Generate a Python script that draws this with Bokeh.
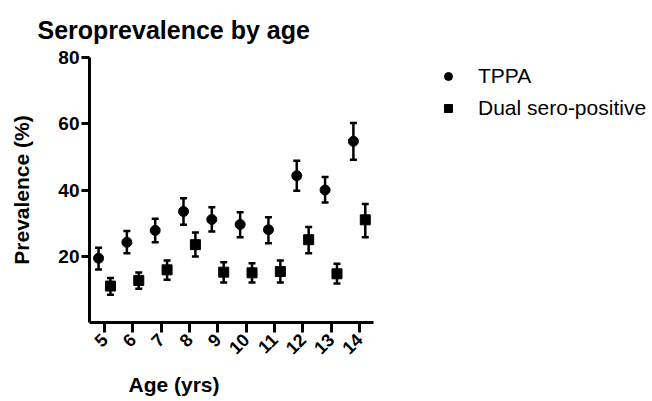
from math import pi
from bokeh.plotting import figure
from bokeh.models import (ColumnDataSource, Whisker, TeeHead, FixedTicker, Title,
                          Legend, LegendItem, Range1d)
from bokeh.transform import dodge
from bokeh.embed import file_html
from bokeh.resources import INLINE

ages = [5, 6, 7, 8, 9, 10, 11, 12, 13, 14]
tick_labels = ["5", "6", "7", "8", "9", "10", "11", "12", "13", "14"]
tppa = [19.4, 24.2, 27.8, 33.5, 31.1, 29.6, 28.0, 44.3, 40.0, 54.7]
tppa_upper = [22.6, 27.6, 31.3, 37.5, 34.8, 33.3, 31.8, 48.8, 43.9, 60.2]
tppa_lower = [16.0, 20.9, 24.2, 29.5, 27.5, 25.7, 23.9, 39.8, 36.2, 49.1]
dual = [11.0, 12.7, 15.9, 23.5, 15.2, 15.0, 15.4, 25.0, 14.7, 31.0]
dual_upper = [13.4, 15.1, 18.7, 27.2, 18.2, 17.9, 18.7, 28.8, 17.7, 35.8]
dual_lower = [8.4, 10.2, 12.9, 19.9, 12.1, 12.1, 12.1, 20.9, 11.8, 25.7]

FONT = "Liberation Sans"

src = ColumnDataSource(dict(age=ages, tppa=tppa, tu=tppa_upper, tl=tppa_lower,
                            dual=dual, du=dual_upper, dl=dual_lower))

p = figure(frame_width=284, frame_height=265, x_range=Range1d(4.47, 14.5), y_range=Range1d(0, 80),
           output_backend="svg", toolbar_location=None,
           min_border_left=89, min_border_right=279, min_border_top=57, min_border_bottom=79)
p.outline_line_color = None
p.grid.visible = False

p.title.text = "Seroprevalence by age"
p.title.text_font = FONT
p.title.text_font_size = "25px"
p.title.text_font_style = "bold"
p.title.text_color = "black"
p.title.align = "left"
p.title.offset = -52
p.title.standoff = 27
p.title.vertical_align = "bottom"

xa = p.xaxis[0]
xa.ticker = FixedTicker(ticks=ages)
xa.major_label_overrides = {a: t for a, t in zip(ages, tick_labels)}
xa.major_label_orientation = pi / 4
xa.major_tick_out = 10
xa.major_label_standoff = 4

ya = p.yaxis[0]
ya.ticker = FixedTicker(ticks=[20, 40, 60, 80])
ya.major_tick_out = 8
ya.major_label_standoff = 2
ya.axis_label = "Prevalence (%)"
ya.axis_label_standoff = 22

for ax in (xa, ya):
    ax.axis_line_width = 3
    ax.axis_line_color = "black"
    ax.major_tick_line_width = 3
    ax.major_tick_line_color = "black"
    ax.major_tick_in = 0
    ax.minor_tick_line_color = None
    ax.major_label_text_font = FONT
    ax.major_label_text_font_style = "bold"
    ax.major_label_text_color = "black"
    ax.axis_label_text_font = FONT
    ax.axis_label_text_font_style = "bold"
    ax.axis_label_text_color = "black"
xa.major_label_text_font_size = "18px"
ya.major_label_text_font_size = "19px"
ya.axis_label_text_font_size = "21px"

xlabel = Title(text="Age (yrs)", text_font=FONT, text_font_size="21px", text_font_style="bold",
               text_color="black", align="left", offset=39, standoff=16)
p.add_layout(xlabel, "below")

xt = dodge("age", -0.21, range=p.x_range)
xd = dodge("age", 0.21, range=p.x_range)

for base, up, lo in ((xt, "tu", "tl"), (xd, "du", "dl")):
    w = Whisker(source=src, base=base, upper=up, lower=lo, line_width=2.5, line_color="black",
                upper_head=TeeHead(size=7, line_width=2.5, line_color="black"),
                lower_head=TeeHead(size=7, line_width=2.5, line_color="black"))
    p.add_layout(w)

r1 = p.scatter(x=xt, y="tppa", source=src, marker="circle", size=10, color="black")
r2 = p.scatter(x=xd, y="dual", source=src, marker="square", size=10, color="black")

legend = Legend(items=[LegendItem(label="TPPA", renderers=[r1]),
                       LegendItem(label="Dual sero-positive", renderers=[r2])],
                location=(65, 198), orientation="vertical",
                label_text_font=FONT, label_text_font_size="21px", label_text_color="black",
                glyph_width=20, glyph_height=32, label_height=32, spacing=0,
                padding=0, margin=0, label_standoff=20,
                border_line_color=None, background_fill_alpha=0)
p.add_layout(legend, "right")

open("out.html", "w").write(file_html(p, INLINE))
